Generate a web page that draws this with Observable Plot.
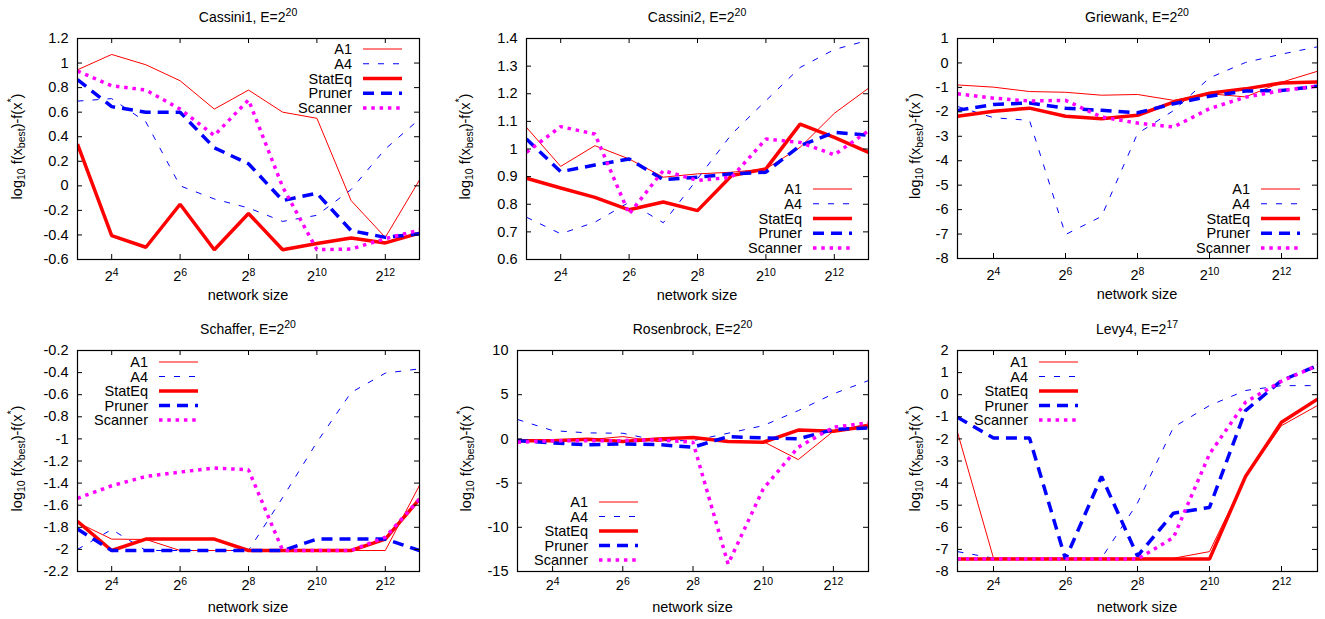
<!DOCTYPE html>
<html><head><meta charset="utf-8">
<script src="https://cdn.jsdelivr.net/npm/d3@7"></script>
<script src="https://cdn.jsdelivr.net/npm/@observablehq/plot@0.6"></script>
<style>
body{margin:0;background:#fff;}
#wrap{position:relative;width:1325px;height:619px;overflow:hidden;background:#fff;}
.panel{position:absolute;}
</style></head><body><div id="wrap"></div>
<script>
// ---------- data ----------
const networkSize = [8, 16, 32, 64, 128, 256, 512, 1024, 2048, 4096, 8192];
const xTicks = [16, 64, 256, 1024, 4096];
const seriesNames = ["A1", "A4", "StatEq", "Pruner", "Scanner"];

const cassini1 = {
  A1:      [0.945, 1.07, 0.986, 0.856, 0.625, 0.78, 0.60, 0.55, -0.12, -0.42, 0.048],
  A4:      [0.69, 0.71, 0.52, 0.0, -0.107, -0.18, -0.29, -0.24, -0.03, 0.30, 0.544],
  StatEq:  [0.34, -0.405, -0.50, -0.15, -0.52, -0.225, -0.52, -0.47, -0.425, -0.465, -0.385],
  Pruner:  [0.865, 0.645, 0.60, 0.60, 0.31, 0.18, -0.12, -0.06, -0.365, -0.42, -0.39],
  Scanner: [0.935, 0.815, 0.78, 0.625, 0.41, 0.70, -0.01, -0.52, -0.515, -0.43, -0.36]
};
const cassini2 = {
  A1:      [1.078, 0.937, 1.012, 0.964, 0.898, 0.91, 0.916, 0.928, 1.006, 1.129, 1.22],
  A4:      [0.753, 0.693, 0.735, 0.807, 0.733, 0.892, 1.054, 1.175, 1.295, 1.36, 1.394],
  StatEq:  [0.894, 0.859, 0.825, 0.78, 0.808, 0.777, 0.904, 0.928, 1.09, 1.042, 0.988],
  Pruner:  [1.036, 0.918, 0.942, 0.964, 0.889, 0.898, 0.91, 0.916, 1.012, 1.06, 1.05],
  Scanner: [0.988, 1.081, 1.054, 0.765, 0.922, 0.886, 0.898, 1.036, 1.024, 0.979, 1.066]
};
const griewank = {
  A1:      [-0.9, -0.99, -1.17, -1.2, -1.32, -1.29, -1.53, -1.26, -1.39, -0.79, -0.34],
  A4:      [-1.78, -2.24, -2.35, -7.02, -6.28, -2.89, -1.95, -0.61, 0.02, 0.36, 0.66],
  StatEq:  [-2.18, -1.98, -1.85, -2.18, -2.28, -2.14, -1.6, -1.24, -1.06, -0.82, -0.78],
  Pruner:  [-1.94, -1.7, -1.64, -1.85, -1.94, -2.04, -1.67, -1.36, -1.15, -1.13, -0.95],
  Scanner: [-1.26, -1.44, -1.56, -1.53, -2.21, -2.46, -2.62, -1.87, -1.4, -1.13, -0.95]
};
const schaffer = {
  A1:      [-1.756, -1.907, -1.91, -2.01, -2.01, -2.01, -2.01, -2.01, -2.01, -2.01, -1.42],
  A4:      [-2.0, -1.82, -2.01, -2.01, -2.01, -2.01, -1.53, -1.03, -0.58, -0.405, -0.366],
  StatEq:  [-1.747, -2.01, -1.907, -1.907, -1.907, -2.01, -2.01, -2.01, -2.01, -1.907, -1.544],
  Pruner:  [-1.816, -2.01, -2.01, -2.01, -2.01, -2.01, -2.01, -1.907, -1.907, -1.907, -2.01],
  Scanner: [-1.538, -1.424, -1.34, -1.30, -1.263, -1.28, -2.01, -2.01, -2.01, -1.89, -1.544]
};
const rosenbrock = {
  A1:      [-0.2, -0.26, -0.1, 0.26, -0.3, 0.2, -0.38, -0.3, -2.34, 0.87, 1.7],
  A4:      [2.2, 0.94, 0.68, 0.64, -0.2, -0.2, 0.64, 1.5, 3.2, 5.1, 6.6],
  StatEq:  [-0.2, -0.2, -0.05, -0.3, 0, 0.15, -0.3, -0.38, 1.0, 0.87, 1.43],
  Pruner:  [-0.2, -0.45, -0.68, -0.57, -0.64, -0.94, 0.26, 0.11, 0, 1.06, 1.25],
  Scanner: [-0.38, -0.2, -0.2, -0.2, -0.1, -0.38, -14.15, -5.66, -0.94, 1.32, 1.81]
};
const levy4 = {
  A1:      [-1.7, -7.4, -7.4, -7.4, -7.4, -7.4, -7.4, -7.1, -3.74, -1.4, -0.49],
  A4:      [-7.1, -7.4, -7.4, -7.4, -7.4, -4.9, -1.47, -0.49, 0.19, 0.41, 0.41],
  StatEq:  [-7.44, -7.44, -7.44, -7.44, -7.44, -7.44, -7.44, -7.44, -3.7, -1.25, -0.2],
  Pruner:  [-1.02, -1.96, -1.96, -7.44, -3.7, -7.3, -5.36, -5.1, -0.72, 0.64, 1.32],
  Scanner: [-7.44, -7.44, -7.44, -7.44, -7.44, -7.44, -6.46, -2.68, -0.34, 0.61, 1.32]
};

const yTicksCassini1 = [-0.6, -0.4, -0.2, 0, 0.2, 0.4, 0.6, 0.8, 1, 1.2];
const yTicksCassini2 = [0.6, 0.7, 0.8, 0.9, 1, 1.1, 1.2, 1.3, 1.4];
const yTicksGriewank = [-8, -7, -6, -5, -4, -3, -2, -1, 0, 1];
const yTicksSchaffer = [-2.2, -2, -1.8, -1.6, -1.4, -1.2, -1, -0.8, -0.6, -0.4, -0.2];
const yTicksRosenbrock = [-15, -10, -5, 0, 5, 10];
const yTicksLevy4 = [-8, -7, -6, -5, -4, -3, -2, -1, 0, 1, 2];

// ---------- styles & layout ----------
const FONT = "'Liberation Sans', Arial, Helvetica, sans-serif";
const FS = 14.5;
const styles = {
  A1:      {stroke: "#ff0000", strokeWidth: 1, dash: null},
  A4:      {stroke: "#0000ff", strokeWidth: 1, dash: "6,9"},
  StatEq:  {stroke: "#ff0000", strokeWidth: 3.5, dash: null},
  Pruner:  {stroke: "#0000ff", strokeWidth: 3.5, dash: "11,7"},
  Scanner: {stroke: "#ff00ff", strokeWidth: 3.5, dash: "3.5,4.8"}
};

const panels = [
  {name: "Cassini1", exp: "20", data: cassini1, yTicks: yTicksCassini1, left: 0, top: 0, w: 440, h: 310,
   mL: 77, mR: 21, mT: 38, mB: 51, xPad: 11, ylabX: 17, legX: 352, legY: 49, legStep: 14.75},
  {name: "Cassini2", exp: "20", data: cassini2, yTicks: yTicksCassini2, left: 440, top: 0, w: 440, h: 310,
   mL: 86, mR: 12, mT: 38, mB: 51, xPad: 11, ylabX: 25, legX: 362, legY: 189, legStep: 14.75},
  {name: "Griewank", exp: "20", data: griewank, yTicks: yTicksGriewank, left: 880, top: 0, w: 445, h: 310,
   mL: 77, mR: 8, mT: 38, mB: 52, xPad: 11, ylabX: 35, legX: 370, legY: 189, legStep: 14.75},
  {name: "Schaffer", exp: "20", data: schaffer, yTicks: yTicksSchaffer, left: 0, top: 310, w: 440, h: 309,
   mL: 77, mR: 21, mT: 40, mB: 48, xPad: 8, ylabX: 17, legX: 148, legY: 52, legStep: 14.5},
  {name: "Rosenbrock", exp: "20", data: rosenbrock, yTicks: yTicksRosenbrock, left: 440, top: 310, w: 440, h: 309,
   mL: 77, mR: 12, mT: 40, mB: 48, xPad: 8, ylabX: 26, legX: 148, legY: 192, legStep: 14.5},
  {name: "Levy4", exp: "17", data: levy4, yTicks: yTicksLevy4, left: 880, top: 310, w: 445, h: 309,
   mL: 77, mR: 8, mT: 40, mB: 48, xPad: 8, ylabX: 35, legX: 148, legY: 52, legStep: 14.5}
];

const wrap = document.getElementById("wrap");

function makePanel(cfg) {
  const rows = [];
  seriesNames.forEach(s => cfg.data[s].forEach((v, i) => rows.push({series: s, n: networkSize[i], v})));
  const fw = cfg.w - cfg.mL - cfg.mR, fh = cfg.h - cfg.mT - cfg.mB;
  const yDomain = [cfg.yTicks[0], cfg.yTicks[cfg.yTicks.length - 1]];
  const T = 5;
  const marks = [
    ...seriesNames.map(s => Plot.line(rows.filter(r => r.series === s), {
      x: "n", y: "v", stroke: styles[s].stroke, strokeWidth: styles[s].strokeWidth,
      strokeDasharray: styles[s].dash, strokeLinejoin: "miter", strokeLinecap: "butt", clip: true
    })),
    Plot.tickX(xTicks, {x: d => d, insetTop: fh - T, stroke: "black", strokeWidth: 1}),
    Plot.tickX(xTicks, {x: d => d, insetBottom: fh - T, stroke: "black", strokeWidth: 1}),
    Plot.tickY(cfg.yTicks, {y: d => d, insetRight: fw - T, stroke: "black", strokeWidth: 1}),
    Plot.tickY(cfg.yTicks, {y: d => d, insetLeft: fw - T, stroke: "black", strokeWidth: 1}),
    Plot.frame({stroke: "black", strokeWidth: 1.2}),
    Plot.axisX(xTicks, {tickSize: 0, tickPadding: cfg.xPad, tickFormat: d => String(Math.round(Math.log2(d))), label: null, fontSize: FS}),
    Plot.axisY(cfg.yTicks, {tickSize: 0, tickPadding: 9, tickFormat: d => String(d), label: null, fontSize: FS})
  ];
  const plot = Plot.plot({
    width: cfg.w, height: cfg.h,
    marginLeft: cfg.mL, marginRight: cfg.mR, marginTop: cfg.mT, marginBottom: cfg.mB,
    x: {type: "log", base: 2, domain: [8, 8192]},
    y: {type: "linear", domain: yDomain},
    style: {fontFamily: FONT, fontSize: FS + "px", color: "black", background: "white", overflow: "visible"},
    marks
  });
  const svg = d3.select(plot);
  // x tick labels as 2^k
  svg.selectAll('g[aria-label="x-axis tick label"] text').each(function() {
    const k = this.textContent;
    const t = d3.select(this);
    t.text("");
    t.append("tspan").text("2");
    t.append("tspan").attr("dy", "-0.5em").attr("font-size", "10.5px").text(k);
  });
  const cx = cfg.mL + fw / 2;
  // title
  const title = svg.append("text").attr("x", cx).attr("y", cfg.mT - 16)
    .attr("text-anchor", "middle").attr("font-size", FS - 0.5).attr("fill", "black").attr("font-family", FONT);
  title.append("tspan").text(cfg.name + ", E=2");
  title.append("tspan").attr("dy", -6).attr("font-size", 10.5).text(cfg.exp);
  // x label
  svg.append("text").attr("x", cx).attr("y", cfg.h - cfg.mB + 41)
    .attr("text-anchor", "middle").attr("font-size", FS).attr("fill", "black").attr("font-family", FONT)
    .text("network size");
  // y label
  const cy = cfg.mT + fh / 2 - 2;
  const yl = svg.append("text").attr("transform", `translate(${cfg.ylabX},${cy}) rotate(-90)`)
    .attr("text-anchor", "middle").attr("dominant-baseline", "central")
    .attr("font-size", FS).attr("fill", "black").attr("font-family", FONT);
  yl.append("tspan").text("log");
  yl.append("tspan").attr("dy", 4).attr("font-size", 10.5).text("10");
  yl.append("tspan").attr("dy", -4).text(" f(x");
  yl.append("tspan").attr("dy", 4).attr("font-size", 10.5).text("best");
  yl.append("tspan").attr("dy", -4).text(")-f(x");
  yl.append("tspan").attr("dy", -6).attr("font-size", 10.5).text("*");
  yl.append("tspan").attr("dy", 6).text(")");
  // legend
  seriesNames.forEach((s, i) => {
    const y = cfg.legY + i * cfg.legStep;
    svg.append("text").attr("x", cfg.legX).attr("y", y).attr("text-anchor", "end")
      .attr("dominant-baseline", "central").attr("font-size", FS).attr("fill", "black")
      .attr("font-family", FONT).text(s);
    svg.append("line").attr("x1", cfg.legX + 11).attr("x2", cfg.legX + 50)
      .attr("y1", y).attr("y2", y).attr("stroke", styles[s].stroke)
      .attr("stroke-width", styles[s].strokeWidth)
      .attr("stroke-dasharray", styles[s].dash);
  });
  const div = document.createElement("div");
  div.className = "panel";
  div.style.left = cfg.left + "px";
  div.style.top = cfg.top + "px";
  div.appendChild(plot);
  wrap.appendChild(div);
}
panels.forEach(makePanel);
</script></body></html>
